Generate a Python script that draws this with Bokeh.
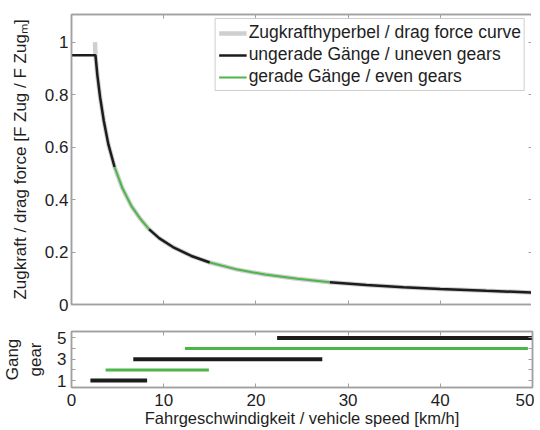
from bokeh.plotting import figure
from bokeh.layouts import column
from bokeh.models import Range1d, LinearAxis, FixedTicker, Legend, LegendItem
from bokeh.embed import file_html
from bokeh.resources import INLINE

# ---- data ----
speed = [2.6, 2.8, 3.1, 3.5, 4.0, 4.67, 5.5, 6.5, 7.5, 8.4, 9.5, 11, 13, 15,
         18, 21, 24.5, 28, 32, 36, 40, 45, 50]
force = [0.95, 0.875, 0.79, 0.70, 0.61, 0.524, 0.445, 0.375, 0.325, 0.287, 0.253,
         0.219, 0.185, 0.160, 0.133, 0.114, 0.098, 0.085, 0.074, 0.066, 0.059,
         0.052, 0.046]
hyper_start_speed = 2.55
hyper_start_force = 1.0
launch_speed = 0.0
launch_force = 0.95
shift_speeds = [4.67, 8.4, 15.0, 28.0]
max_speed = 50.0

gears = [1, 2, 3, 4, 5]
gear_from = [2.05, 3.7, 6.7, 12.3, 22.3]
gear_to = [8.2, 14.9, 27.2, 49.5, 50.0]

x_ticks = [0, 10, 20, 30, 40, 50]
y_ticks = [0, 0.2, 0.4, 0.6, 0.8, 1.0]
gear_ticks = [1, 2, 3, 4, 5]
gear_labels = {1: "1", 2: "", 3: "3", 4: "", 5: "5"}

legend_labels = ["Zugkrafthyperbel / drag force curve",
                 "ungerade Gänge / uneven gears",
                 "gerade Gänge / even gears"]

FONT = "Liberation Sans"
TXT = "#1e1e1e"
BOX = "#a0a0a0"
GREEN = "#4cb748"
BLACK = "#1c1c1c"
GRAY = "#cfcfcf"


def style_axis(ax, show_labels=True):
    ax.major_tick_in = 4
    ax.major_tick_out = 0
    ax.minor_tick_line_color = None
    ax.axis_line_color = BOX
    ax.axis_line_width = 1.5
    ax.major_tick_line_color = BOX
    ax.major_label_text_font = FONT
    ax.major_label_text_font_size = "17px"
    ax.major_label_text_color = TXT
    ax.axis_label_text_font = FONT
    ax.axis_label_text_font_size = "17px"
    ax.axis_label_text_font_style = "normal"
    ax.axis_label_text_color = TXT
    if not show_labels:
        ax.major_label_text_font_size = "0px"
        ax.major_label_text_color = None
        ax.major_label_standoff = 0


# ---- main plot ----
p = figure(frame_width=461, frame_height=290, output_backend="svg",
           toolbar_location=None, x_range=Range1d(0, 50), y_range=Range1d(0, 1.105),
           min_border_left=68, min_border_right=2, min_border_top=14, min_border_bottom=10)
p.xgrid.visible = False
p.ygrid.visible = False
p.outline_line_color = BOX
p.outline_line_width = 1.5
p.background_fill_color = "white"
p.border_fill_color = "white"

p.xaxis.ticker = FixedTicker(ticks=x_ticks)
p.yaxis.ticker = FixedTicker(ticks=y_ticks)
p.yaxis.major_label_overrides = {1.0: "1", 0: "0"}
style_axis(p.xaxis[0], show_labels=False)
style_axis(p.yaxis[0])
p.yaxis.axis_label = "Zugkraft / drag force [F Zug / F Zugₘ]"
p.yaxis.major_label_standoff = 3
p.yaxis.axis_label_standoff = 12

top = LinearAxis(ticker=FixedTicker(ticks=x_ticks))
style_axis(top, show_labels=False)
p.add_layout(top, "above")
right = LinearAxis(ticker=FixedTicker(ticks=y_ticks))
style_axis(right, show_labels=False)
p.add_layout(right, "right")

# drag force hyperbola (grey)
hyp_x = [hyper_start_speed] + speed
hyp_y = [hyper_start_force] + force
r_hyp = p.line(hyp_x, hyp_y, line_color=GRAY, line_width=4.5)

# driven curve split into gear segments
drive_x = [launch_speed] + speed
drive_y = [launch_force] + force
bounds = [launch_speed] + shift_speeds + [max_speed]
odd_xs, odd_ys, even_xs, even_ys = [], [], [], []
for i in range(len(bounds) - 1):
    lo, hi = bounds[i], bounds[i + 1]
    sx = [x for x in drive_x if lo <= x <= hi]
    sy = [y for x, y in zip(drive_x, drive_y) if lo <= x <= hi]
    if i % 2 == 0:
        odd_xs.append(sx); odd_ys.append(sy)
    else:
        even_xs.append(sx); even_ys.append(sy)
r_odd = p.multi_line(odd_xs, odd_ys, line_color=BLACK, line_width=2.5)
r_even = p.multi_line(even_xs, even_ys, line_color=GREEN, line_width=2)

legend = Legend(items=[LegendItem(label=legend_labels[0], renderers=[r_hyp]),
                       LegendItem(label=legend_labels[1], renderers=[r_odd]),
                       LegendItem(label=legend_labels[2], renderers=[r_even])],
                location="top_right")
legend.label_text_font = FONT
legend.label_text_font_size = "17.5px"
legend.label_text_color = TXT
legend.border_line_color = BOX
legend.border_line_width = 1
legend.background_fill_alpha = 1
legend.glyph_width = 28
legend.glyph_height = 20
legend.label_height = 20
legend.label_standoff = 2
legend.spacing = 1
legend.padding = 3
legend.margin = 4
p.add_layout(legend, "center")

# ---- gear plot ----
g = figure(frame_width=461, frame_height=56, output_backend="svg",
           toolbar_location=None, x_range=Range1d(0, 50), y_range=Range1d(0.35, 5.6),
           min_border_left=68, min_border_right=2, min_border_top=17, min_border_bottom=2)
g.xgrid.visible = False
g.ygrid.visible = False
g.outline_line_color = BOX
g.outline_line_width = 1.5
g.xaxis.ticker = FixedTicker(ticks=x_ticks)
g.yaxis.ticker = FixedTicker(ticks=gear_ticks)
g.yaxis.major_label_overrides = gear_labels
style_axis(g.xaxis[0])
style_axis(g.yaxis[0])
g.xaxis.axis_label = "Fahrgeschwindigkeit / vehicle speed [km/h]"
g.xaxis.axis_label_text_font_size = "16.5px"
g.xaxis.major_label_standoff = 6
g.xaxis.axis_label_standoff = 0
g.yaxis.axis_label = "Gang\ngear"
g.yaxis.major_label_standoff = 5
g.yaxis.axis_label_standoff = 9

gtop = LinearAxis(ticker=FixedTicker(ticks=x_ticks))
style_axis(gtop, show_labels=False)
g.add_layout(gtop, "above")
gright = LinearAxis(ticker=FixedTicker(ticks=gear_ticks))
style_axis(gright, show_labels=False)
g.add_layout(gright, "right")

for gear, a, b in zip(gears, gear_from, gear_to):
    odd = gear % 2 == 1
    g.segment(x0=[a], y0=[gear], x1=[b], y1=[gear],
              line_color=BLACK if odd else GREEN, line_width=4 if odd else 3)

layout = column(p, g, spacing=0)
open("out.html", "w").write(file_html(layout, INLINE))
